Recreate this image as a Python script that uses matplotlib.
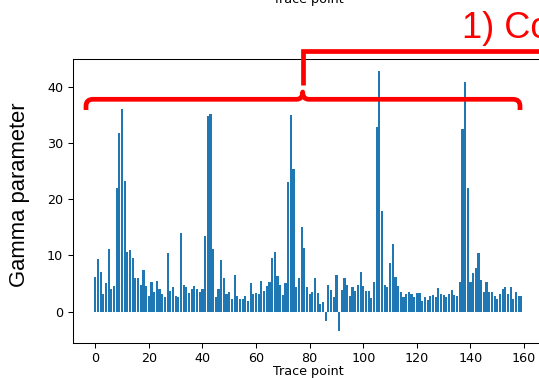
import matplotlib
matplotlib.use("Agg")
import matplotlib.pyplot as plt
import numpy as np
from matplotlib.path import Path
from matplotlib.patches import PathPatch

# gamma parameter per trace point
gamma = [
    6.2, 9.3, 7.0, 3.1, 5.0, 11.2, 4.0, 4.5, 22.0, 31.7,
    36.0, 23.2, 10.6, 11.0, 9.5, 6.0, 6.0, 4.8, 7.4, 4.5,
    2.7, 5.3, 3.4, 5.4, 4.1, 3.2, 2.6, 10.5, 3.6, 4.3,
    2.8, 2.5, 13.9, 4.8, 4.4, 3.3, 4.1, 4.5, 4.0, 3.4,
    4.0, 13.5, 34.8, 35.2, 11.2, 2.6, 4.1, 9.1, 6.0, 3.2,
    3.4, 2.3, 6.5, 2.7, 2.2, 2.3, 2.7, 1.9, 5.0, 3.1,
    3.3, 3.2, 5.5, 3.6, 4.6, 5.3, 9.6, 10.6, 6.4, 4.8,
    2.9, 5.0, 23.0, 35.0, 25.4, 4.3, 6.0, 15.0, 11.3, 4.3,
    3.1, 3.4, 6.0, 3.3, 1.4, 1.7, -1.7, 4.7, 3.9, 2.5,
    6.5, -3.4, 3.8, 6.0, 4.7, 2.8, 4.4, 3.6, 4.7, 7.1,
    4.5, 3.6, 3.6, 2.4, 5.2, 32.8, 42.8, 17.9, 4.8, 4.4,
    8.7, 12.1, 6.1, 4.5, 3.5, 2.6, 3.2, 3.5, 3.2, 2.5,
    3.3, 3.3, 1.9, 2.5, 2.1, 2.8, 2.9, 2.6, 4.2, 3.2,
    2.9, 2.5, 3.2, 3.8, 2.9, 2.8, 5.2, 32.5, 40.8, 22.0,
    5.3, 6.9, 7.7, 10.4, 5.7, 3.4, 5.2, 3.4, 3.4, 2.7,
    2.3, 3.2, 4.0, 4.4, 3.2, 4.4, 2.3, 3.5, 2.8, 2.8,
]
trace = np.arange(len(gamma))
x_ticks = [0, 20, 40, 60, 80, 100, 120, 140, 160]
y_ticks = [0, 10, 20, 30, 40]

W, H = 539, 378
fig = plt.figure(figsize=(W / 100, H / 100), dpi=100)

# axes is cropped on the right in the reference, so it runs past the figure edge
ax = fig.add_axes([72.7 / W, (H - 343) / H, (545 - 72.7) / W, (343 - 59.3) / H])
ax.bar(trace, gamma, width=0.8, color="#1f77b4")
ax.set_xlim(-8.4, 167.8)
ax.set_ylim(-5.6, 44.9)
ax.set_xticks(x_ticks)
ax.set_yticks(y_ticks)
ax.tick_params(labelsize=9.2, length=3.3, width=0.75)
for s in ax.spines.values():
    s.set_linewidth(0.75)
ax.set_xlabel("Trace point", fontsize=9.2, labelpad=-0.5)

# label of the subplot above, mostly cut off
fig.text(308 / W, 1 - 2.5 / H, "Trace point", fontsize=9.2, ha="center", va="baseline")

fig.text(20 / W, 1 - 195 / H, "Gamma parameter", rotation=90, fontsize=15.8,
         family="Liberation Sans", ha="center", va="center")

fig.text(462 / W, 1 - 38 / H, "1) Co", fontsize=26, color="red",
         family="Liberation Sans", ha="left", va="baseline")

# red brace + connector, drawn in figure pixels
ov = fig.add_axes([0, 0, 1, 1], facecolor="none")
ov.set_xlim(0, W)
ov.set_ylim(H, 0)
ov.axis("off")

yb = 99.3
cx = 302.7
brace = Path(
    [(86, 110), (86, 106), (86, yb), (93, yb),
     (cx - 6, yb), (cx, yb), (cx, 92), (cx, yb), (cx + 6, yb),
     (513, yb), (520, yb), (520, 106), (520, 110)],
    [Path.MOVETO, Path.LINETO, Path.CURVE3, Path.CURVE3,
     Path.LINETO, Path.CURVE3, Path.CURVE3, Path.CURVE3, Path.CURVE3,
     Path.LINETO, Path.CURVE3, Path.CURVE3, Path.LINETO])
ov.add_patch(PathPatch(brace, fill=False, edgecolor="red", lw=3.4,
                       capstyle="butt", joinstyle="round"))
conn = Path([(cx, 85), (cx, 50.5), (570, 50.5)],
            [Path.MOVETO, Path.LINETO, Path.LINETO])
ov.add_patch(PathPatch(conn, fill=False, edgecolor="red", lw=3.4,
                       capstyle="butt", joinstyle="miter"))

plt.savefig("out.png", dpi=100)
